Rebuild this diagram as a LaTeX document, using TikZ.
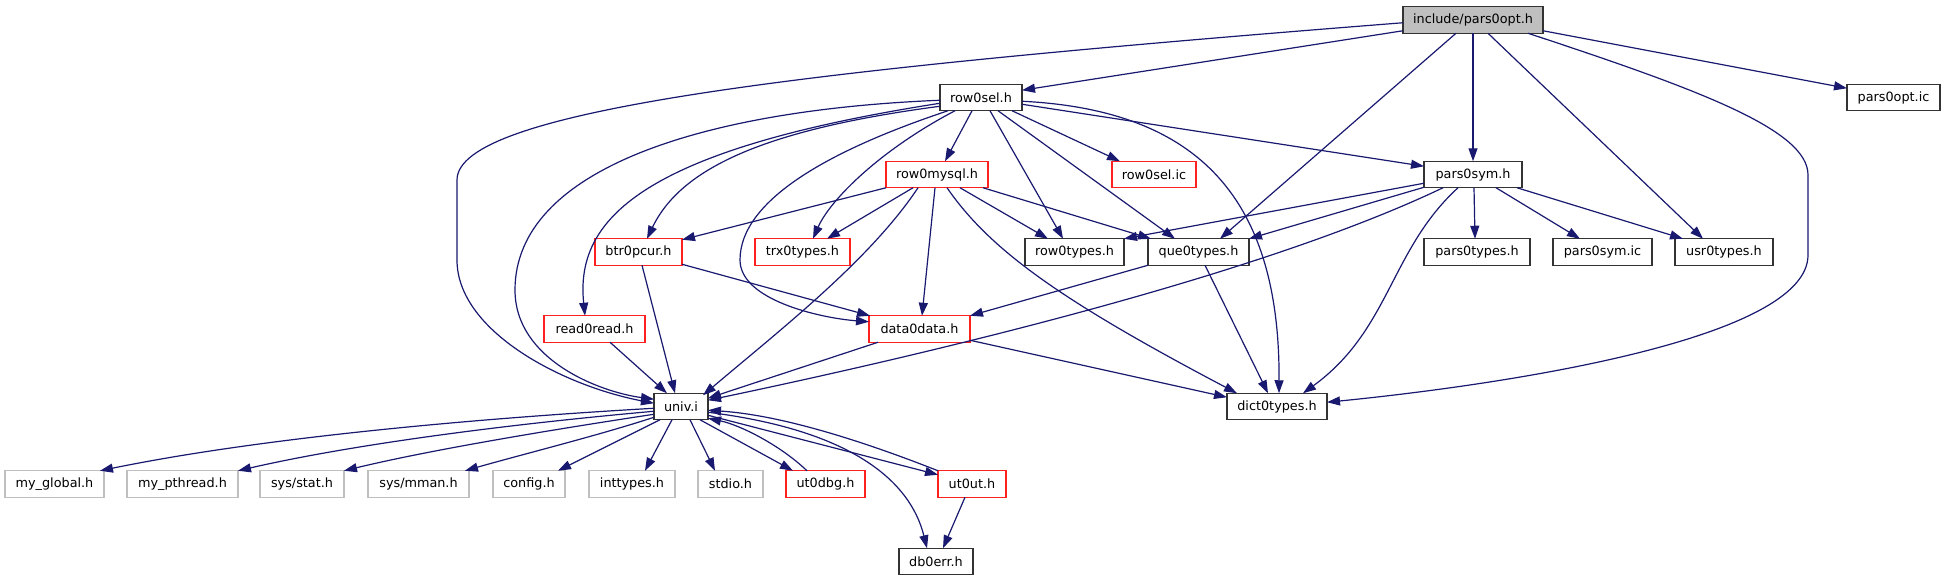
\documentclass[tikz,border=0pt]{standalone}
\usepackage{fontspec}
\setmainfont{DejaVu Sans}
\usetikzlibrary{arrows.meta,calc}
\definecolor{edgeblue}{HTML}{191970}
\definecolor{lgray}{HTML}{BFBFBF}
\definecolor{topfill}{HTML}{BFBFBF}
\definecolor{rednode}{HTML}{FF2020}
\begin{document}
\begin{tikzpicture}[x=1pt,y=-1pt,
  box/.style={draw, rectangle, minimum height=26.5pt, inner sep=0pt, outer sep=0pt,
    font=\fontsize{12.8}{15}\selectfont, line width=1.3pt},
  blk/.style={box, draw=black!80},
  rd/.style={box, draw=rednode},
  gr/.style={box, draw=lgray},
  edge/.style={draw=edgeblue, line width=1.2pt, -{Triangle[length=13pt,width=9pt]}},
]
\useasboundingbox (0,0) rectangle (1945,581);
\fill[white] (0,0) rectangle (1945,581);

% nodes
\node[blk, fill=topfill, minimum width=140pt] (P) at (1473,20) {include/pars0opt.h};
\node[blk, minimum width=82pt] (rowsel) at (981,97.5) {row0sel.h};
\node[blk, minimum width=93pt] (poptic) at (1893.5,97.5) {pars0opt.ic};
\node[rd, minimum width=102pt] (mysql) at (937,174.5) {row0mysql.h};
\node[rd, minimum width=84pt] (selic) at (1154,174.5) {row0sel.ic};
\node[blk, minimum width=98pt] (psym) at (1473,174.5) {pars0sym.h};
\node[rd, minimum width=87pt] (btr) at (638.5,252) {btr0pcur.h};
\node[rd, minimum width=95pt] (trx) at (802.5,252) {trx0types.h};
\node[blk, minimum width=99pt] (rtypes) at (1074.5,252) {row0types.h};
\node[blk, minimum width=101pt] (qtypes) at (1198.5,252) {que0types.h};
\node[blk, minimum width=106pt] (ptypes) at (1477,252) {pars0types.h};
\node[blk, minimum width=99pt] (psymic) at (1602.5,252) {pars0sym.ic};
\node[blk, minimum width=98pt] (usr) at (1724,252) {usr0types.h};
\node[rd, minimum width=101pt] (read) at (594.5,329) {read0read.h};
\node[rd, minimum width=101pt] (data) at (919.5,329) {data0data.h};
\node[blk, minimum width=54pt] (univ) at (681,406.5) {univ.i};
\node[blk, minimum width=100pt] (dict) at (1277,406.5) {dict0types.h};
\node[gr, minimum width=99pt] (myglobal) at (54.5,484) {my\_global.h};
\node[gr, minimum width=111pt] (mypthread) at (182.5,484) {my\_pthread.h};
\node[gr, minimum width=84pt] (sysstat) at (302,484) {sys/stat.h};
\node[gr, minimum width=101pt] (sysmman) at (418.5,484) {sys/mman.h};
\node[gr, minimum width=72pt] (config) at (529,484) {config.h};
\node[gr, minimum width=86pt] (inttypes) at (632,484) {inttypes.h};
\node[gr, minimum width=65pt] (stdio) at (730.5,484) {stdio.h};
\node[rd, minimum width=79pt] (utdbg) at (825.5,484) {ut0dbg.h};
\node[rd, minimum width=68pt] (utut) at (972,484) {ut0ut.h};
\node[blk, minimum width=74pt] (dberr) at (936,561.5) {db0err.h};

% edges from include/pars0opt.h
\draw[edge] ($(P.north west)+(0,16)$) .. controls (800,70) and (457,110) .. (457,180) -- (457,260) .. controls (457,330) and (560,385) .. ($(univ.north west)+(0,10)$);
\draw[edge] ($(P.north west)+(0,24)$) -- ($(rowsel.north east)+(0,6)$);
\draw[edge] ($(P.south west)+(53,0)$) -- ($(qtypes.north west)+(72,0)$);
\draw[edge] (P.south) -- (psym.north);
\draw[edge] ($(P.south west)+(85,0)$) -- ($(usr.north west)+(28,0)$);
\draw[edge] ($(P.south west)+(125,0)$) .. controls (1700,90) and (1808,130) .. (1808,175) -- (1808,255) .. controls (1808,340) and (1500,385) .. ($(dict.north east)+(0,9)$);
\draw[edge] ($(P.north east)+(0,24)$) -- ($(poptic.north west)+(0,4)$);

% edges from row0sel.h
\draw[edge] ($(rowsel.north west)+(0,16)$) .. controls (700,110) and (515,170) .. (515,290) .. controls (515,360) and (600,392) .. ($(univ.north west)+(0,6)$);
\draw[edge] ($(rowsel.north west)+(0,19)$) .. controls (640,150) and (575,220) .. ($(read.north west)+(41,0)$);
\draw[edge] ($(rowsel.north west)+(0,22)$) .. controls (760,130) and (680,170) .. ($(btr.north west)+(52,0)$);
\draw[edge] ($(rowsel.south west)+(15,0)$) .. controls (880,150) and (830,200) .. ($(trx.north west)+(58,0)$);
\draw[edge] ($(rowsel.south west)+(8,0)$) .. controls (830,150) and (740,200) .. (740,260) .. controls (740,300) and (820,318) .. ($(data.north west)+(0,6)$);
\draw[edge] ($(rowsel.south west)+(32,0)$) -- ($(mysql.north west)+(59,0)$);
\draw[edge] ($(rowsel.south west)+(50,0)$) -- ($(rtypes.north west)+(38,0)$);
\draw[edge] ($(rowsel.south west)+(58,0)$) -- ($(qtypes.north west)+(27,0)$);
\draw[edge] ($(rowsel.south west)+(72,0)$) -- ($(selic.north west)+(8,0)$);
\draw[edge] ($(rowsel.north east)+(0,20)$) -- ($(psym.north west)+(0,5)$);
\draw[edge] ($(rowsel.north east)+(0,17)$) .. controls (1200,110) and (1280,200) .. ($(dict.north west)+(52,0)$);

% edges from row0mysql.h
\draw[edge] (mysql.south west) -- ($(btr.north east)+(0,1)$);
\draw[edge] ($(mysql.south west)+(27,0)$) -- ($(trx.north west)+(72,0)$);
\draw[edge] ($(mysql.south west)+(32,0)$) .. controls (870,260) and (780,330) .. ($(univ.north east)+(-5,2)$);
\draw[edge] ($(mysql.south west)+(49,0)$) -- ($(data.north west)+(53,0)$);
\draw[edge] ($(mysql.south west)+(74,0)$) -- ($(rtypes.north west)+(23,0)$);
\draw[edge] ($(mysql.south west)+(97,0)$) -- ($(qtypes.north west)+(3,0)$);
\draw[edge] ($(mysql.south west)+(61,0)$) .. controls (990,250) and (1060,300) .. ($(dict.north west)+(10,0)$);

% edges from pars0sym.h
\draw[edge] ($(psym.north west)+(0,22)$) -- (rtypes.north east);
\draw[edge] ($(psym.north west)+(0,26)$) -- (qtypes.north east);
\draw[edge] ($(psym.south west)+(19,0)$) .. controls (1250,280) and (900,360) .. ($(univ.north east)+(0,7)$);
\draw[edge] ($(psym.south west)+(50,0)$) -- ($(ptypes.north west)+(51,0)$);
\draw[edge] ($(psym.south west)+(72,0)$) -- ($(psymic.north west)+(27,0)$);
\draw[edge] ($(psym.south west)+(93,0)$) -- ($(usr.north west)+(8,0)$);
\draw[edge] ($(psym.south west)+(34,0)$) .. controls (1390,250) and (1390,330) .. ($(dict.north east)+(-24,0)$);

% other edges
\draw[edge] ($(btr.south west)+(47,0)$) -- ($(univ.north west)+(21,0)$);
\draw[edge] ($(btr.south east)+(0,-1)$) -- ($(data.north west)+(1,0)$);
\draw[edge] ($(read.south west)+(66,0)$) -- ($(univ.north west)+(13,0)$);
\draw[edge] (qtypes.south west) -- (data.north east);
\draw[edge] ($(qtypes.south west)+(57,0)$) -- ($(dict.north west)+(41,0)$);
\draw[edge] ($(data.south west)+(9,0)$) -- ($(univ.north east)+(0,5)$);
\draw[edge] ($(data.south east)+(0,-2)$) -- ($(dict.north west)+(0,4)$);

% edges from univ.i
\draw[edge] ($(univ.north west)+(0,15)$) .. controls (450,420) and (250,440) .. ($(myglobal.north east)+(-4,0)$);
\draw[edge] ($(univ.north west)+(0,18)$) .. controls (500,425) and (350,445) .. (mypthread.north east);
\draw[edge] ($(univ.north west)+(0,21)$) .. controls (550,430) and (430,450) .. (sysstat.north east);
\draw[edge] ($(univ.north west)+(0,24)$) .. controls (600,435) and (520,455) .. ($(sysmman.north east)+(-4,0)$);
\draw[edge] ($(univ.south west)+(6,0)$) -- ($(config.north east)+(-7,0)$);
\draw[edge] ($(univ.south west)+(18,0)$) -- ($(inttypes.north west)+(56,0)$);
\draw[edge] ($(univ.south west)+(36,0)$) -- ($(stdio.north west)+(17,0)$);
\draw[edge] ($(univ.south west)+(46,0)$) -- ($(utdbg.north west)+(7,0)$);
\draw[edge] ($(utdbg.north west)+(21,0)$) .. controls (780,445) and (740,425) .. ($(univ.north east)+(0,25)$);
\draw[edge] ($(univ.north east)+(0,22)$) -- ($(utut.north west)+(0,4)$);
\draw[edge] (utut.north west) .. controls (860,440) and (780,415) .. ($(univ.north east)+(0,17)$);
\draw[edge] ($(univ.north east)+(0,19)$) .. controls (850,430) and (910,480) .. ($(dberr.north west)+(28,0)$);
\draw[edge] ($(utut.south west)+(27,0)$) -- ($(dberr.north west)+(44,0)$);
\end{tikzpicture}
\end{document}
